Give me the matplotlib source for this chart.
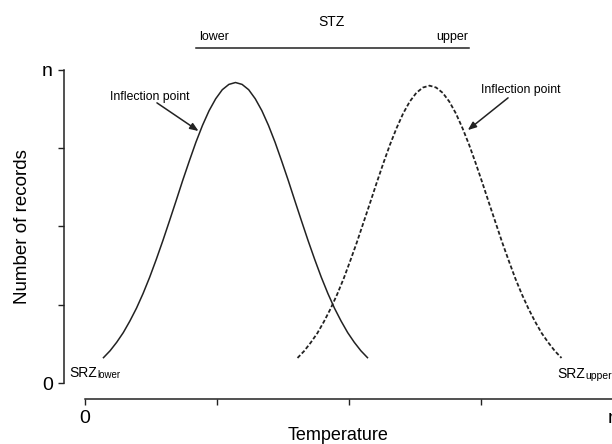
import matplotlib
matplotlib.use("Agg")
import matplotlib.pyplot as plt

plt.rcParams["font.family"] = ["Liberation Sans", "DejaVu Sans"]

# lower species response curve (solid)
lower_x = [0.14, 0.19, 0.24, 0.29, 0.34, 0.39, 0.44, 0.49, 0.54, 0.59, 0.64,
           0.69, 0.74, 0.79, 0.84, 0.89, 0.94, 0.99, 1.04, 1.09, 1.14,
           1.19, 1.24, 1.29, 1.34, 1.39, 1.44, 1.49, 1.54, 1.59, 1.64,
           1.69, 1.74, 1.79, 1.84, 1.89, 1.94, 1.99, 2.04, 2.09, 2.14]
lower_y = [0.081, 0.103, 0.130, 0.161, 0.198, 0.239, 0.286, 0.338, 0.395, 0.455, 0.518,
           0.582, 0.647, 0.709, 0.769, 0.823, 0.870, 0.908, 0.937, 0.954, 0.960,
           0.954, 0.937, 0.908, 0.870, 0.823, 0.769, 0.709, 0.647, 0.582, 0.518,
           0.455, 0.395, 0.338, 0.286, 0.239, 0.198, 0.161, 0.130, 0.103, 0.081]

# upper species response curve (dashed)
upper_x = [1.61, 1.66, 1.71, 1.76, 1.81, 1.86, 1.91, 1.96, 2.01, 2.06, 2.11,
           2.16, 2.21, 2.26, 2.31, 2.36, 2.41, 2.46, 2.51, 2.56, 2.61,
           2.66, 2.71, 2.76, 2.81, 2.86, 2.91, 2.96, 3.01, 3.06, 3.11,
           3.16, 3.21, 3.26, 3.31, 3.36, 3.41, 3.46, 3.51, 3.56, 3.61]
upper_y = [0.080, 0.102, 0.129, 0.159, 0.196, 0.237, 0.283, 0.334, 0.391, 0.450, 0.513,
           0.576, 0.640, 0.702, 0.761, 0.814, 0.861, 0.899, 0.927, 0.944, 0.950,
           0.944, 0.927, 0.899, 0.861, 0.814, 0.761, 0.702, 0.640, 0.576, 0.513,
           0.450, 0.391, 0.334, 0.283, 0.237, 0.196, 0.159, 0.129, 0.102, 0.080]

infl_lower = (0.86, 0.805)
infl_upper = (2.90, 0.808)
stz_y = 1.07

yticks = [0, 0.25, 0.5, 0.75, 1]
ytick_labels = ["0", "", "", "", "n"]
xticks = [0, 1, 2, 3, 4]
xtick_labels = ["0", "", "", "", "n"]

fig = plt.figure(figsize=(6.12, 4.44), dpi=100)
ax = fig.add_axes([64 / 612, 61 / 444, 549 / 612, 313 / 444])
ax.set_xlim(-21 / 132, 4.0)
ax.set_ylim(0, 1)

ax.plot(lower_x, lower_y, color="#222222", lw=1.1)
ax.plot(upper_x, upper_y, color="#222222", lw=1.3, linestyle=(0, (2.2, 1.2)))

for s in ["top", "right"]:
    ax.spines[s].set_visible(False)
ax.spines["bottom"].set_position(("outward", 11.5))
ax.spines["bottom"].set_bounds(0, 4)
ax.spines["left"].set_bounds(0, 1)
for s in ["left", "bottom"]:
    ax.spines[s].set_linewidth(1.1)
    ax.spines[s].set_color("#222222")

ax.set_yticks(yticks)
ax.set_yticklabels(ytick_labels)
ax.set_xticks(xticks)
ax.set_xticklabels(xtick_labels)
ax.tick_params(axis="both", length=4, width=1.0, color="#222222", labelsize=14, pad=4)
ax.set_ylabel("Number of records", fontsize=13.5, labelpad=8)
ax.set_xlabel("Temperature", fontsize=13, labelpad=0)

# inflection point arrows
arrow = dict(arrowstyle="-|>,head_length=0.5,head_width=0.2", color="#222222", lw=1.1,
             shrinkA=0, shrinkB=0)
ax.annotate("", xy=infl_lower, xytext=(0.545, 0.895), arrowprops=arrow)
ax.text(0.49, 0.914, "Inflection point", fontsize=8.8, ha="center", va="center")
ax.annotate("", xy=infl_upper, xytext=(3.205, 0.911), arrowprops=arrow)
ax.text(3.30, 0.936, "Inflection point", fontsize=8.8, ha="center", va="center")

# STZ bracket spanning the two inflection points
ax.plot([0.84, 2.91], [stz_y, stz_y], color="#222222", lw=1.1, clip_on=False)
ax.text(0.866, stz_y + 0.015, "lower", fontsize=9, ha="left", va="bottom")
ax.text(2.90, stz_y + 0.015, "upper", fontsize=9, ha="right", va="bottom")
ax.text(1.87, 1.153, "STZ", fontsize=10, ha="center", va="center")

# SRZ labels with smaller suffix
t1 = ax.text(-0.12, 0.018, "SRZ", fontsize=10, ha="left", va="baseline")
ax.annotate("lower", xy=(1, 0), xycoords=t1, fontsize=7, va="bottom", ha="left")
t2 = ax.text(3.58, 0.015, "SRZ", fontsize=10, ha="left", va="baseline")
ax.annotate("upper", xy=(1, 0), xycoords=t2, fontsize=7.5, va="bottom", ha="left")

fig.savefig("out.png", dpi=100)
